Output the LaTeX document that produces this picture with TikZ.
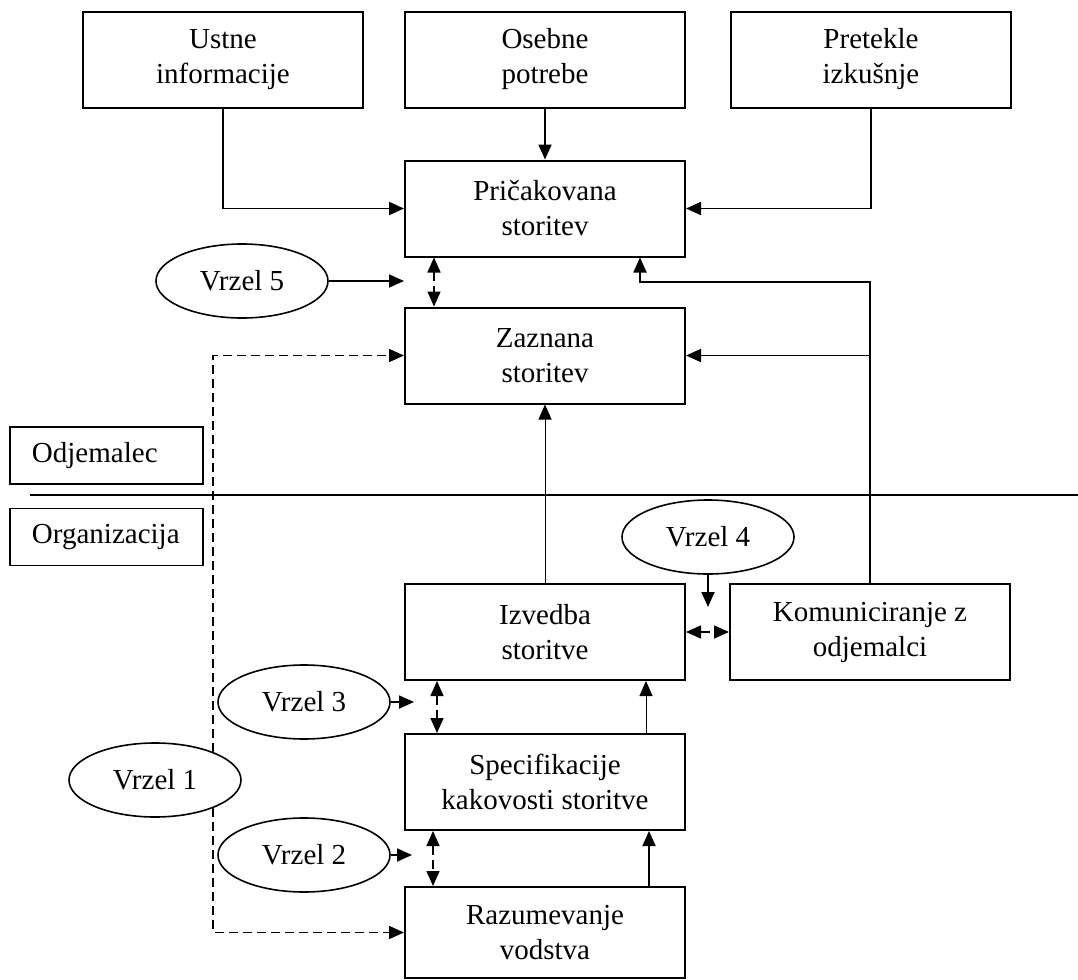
\documentclass[tikz,border=0pt]{standalone}
\usepackage{fontspec}
\setmainfont{Liberation Serif}
\usetikzlibrary{shapes.geometric, arrows.meta, calc}

\begin{document}
\begin{tikzpicture}[x=0.5pt, y=-0.5pt, >={Triangle[length=7.5pt, width=6.5pt]},
    font=\fontsize{14.5pt}{17.5pt}\selectfont,
    box/.style={draw, line width=1pt, minimum width=140pt, minimum height=48pt, align=center, inner sep=0pt},
    lane/.style={draw, line width=0.9pt, text width=74.5pt, inner xsep=11pt, inner ysep=0pt, minimum height=28.5pt, align=left},
    gap/.style={draw, ellipse, line width=0.8pt, minimum width=86pt, minimum height=37pt, inner sep=0pt},
    link/.style={->, line width=0.9pt},
    thinlink/.style={->, line width=0.5pt},
    gapline/.style={line width=0.8pt, dash pattern=on 4.5pt off 2.5pt}]
        \useasboundingbox (0,0) rectangle (1078,980);

        % Top row
        \node[box] (ustne) at (223, 59.5) {Ustne\\informacije};
        \node[box] (osebne) at (545, 59.5) {Osebne\\potrebe};
        \node[box] (pretekle) at (871, 59.5) {Pretekle\\izkušnje};

        % Customer
        \node[box] (pric) at (545, 208.5) {Pričakovana\\storitev};
        \node[box] (zaz) at (545, 355.5) {Zaznana\\storitev};

        \node[lane] (odj) at (106.5, 455.5) {Odjemalec};
        \node[lane] (org) at (106.5, 537) {Organizacija};
        \draw[line width=0.8pt] (30, 495) -- (1078, 495);

        % Organization
        \node[box] (izv) at (545, 632) {Izvedba\\storitve};
        \node[box] (kom) at (870, 632) {Komuniciranje z\\odjemalci};
        \node[box] (spec) at (545, 782) {Specifikacije\\kakovosti storitve};
        \node[box, minimum height=45.5pt] (raz) at (545, 932.5) {Razumevanje\\vodstva};

        % Gaps
        \node[gap] (v5) at (242, 281) {Vrzel 5};
        \node[gap] (v4) at (708, 537) {Vrzel 4};
        \node[gap] (v3) at (304, 702) {Vrzel 3};
        \node[gap] (v1) at (155, 780) {Vrzel 1};
        \node[gap] (v2) at (304, 855) {Vrzel 2};

        % Connectors
        \draw[link] (ustne.south) |- (pric.west);
        \draw[link] (osebne) -- (pric);
        \draw[link] (pretekle.south) |- (pric.east);
        \draw[link] (kom.north) -- ++(0,-301) -| ([xshift=47.5pt]pric.south);
        \draw[link] (kom.north |- zaz.east) -- (zaz.east);
        \draw[thinlink] (izv) -- (zaz);
        \draw[thinlink] ([xshift=50.5pt]spec.north) -- ([xshift=50.5pt]izv.south);
        \draw[link] ([xshift=52pt]raz.north) -- ([xshift=52pt]spec.south);

        % Gap arrows
        \draw[link] (v5) -- (v5 -| pric.west);
        \draw[gapline, <->] ([xshift=15pt]pric.south west) -- ([xshift=15pt]zaz.north west);
        \draw[link] (v4) -- ++(0,70);
        \draw[gapline, <->] (izv.east) -- (kom.west);
        \draw[link] (v3) -- ($(v3 -| izv.west)+(10,0)$);
        \draw[gapline, <->] ([xshift=16.5pt]izv.south west) -- ([xshift=16.5pt]spec.north west);
        \draw[link] (v2) -- ($(v2 -| raz.west)+(8,0)$);
        \draw[gapline, <->] ([xshift=14.5pt]spec.south west) -- ([xshift=14.5pt]raz.north west);
        \draw[gapline, ->] (v1.26) |- (zaz.west);
        \draw[gapline, ->] (v1.-26) |- (raz.west);

      \end{tikzpicture}
\end{document}
